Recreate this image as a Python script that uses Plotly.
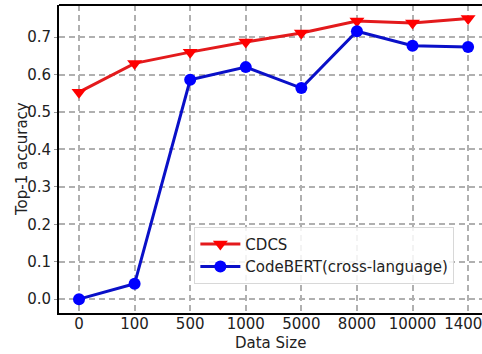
import plotly.graph_objects as go

# Training data sizes (categorical x positions) and top-1 accuracy per model
data_sizes = ["0", "100", "500", "1000", "5000", "8000", "10000", "14000"]
cdcs_acc = [0.553, 0.630, 0.660, 0.687, 0.711, 0.743, 0.738, 0.750]
codebert_acc = [0.000, 0.041, 0.586, 0.620, 0.564, 0.716, 0.677, 0.674]
y_ticks = [0.0, 0.1, 0.2, 0.3, 0.4, 0.5, 0.6, 0.7]

FONT = "DejaVu Sans"
GRID = "#b0b0b0"

fig = go.Figure()
fig.add_trace(go.Scatter(
    x=data_sizes, y=cdcs_acc, name="CDCS", mode="lines+markers",
    line=dict(color="#e31a1c", width=3),
    marker=dict(symbol="triangle-down", size=13, color="#ff0000"),
))
fig.add_trace(go.Scatter(
    x=data_sizes, y=codebert_acc, name="CodeBERT(cross-language)", mode="lines+markers",
    line=dict(color="#0a10c8", width=3),
    marker=dict(symbol="circle", size=12, color="#0000ff"),
))

fig.update_layout(
    width=482, height=354,
    margin=dict(l=59, r=0, t=5, b=41),
    paper_bgcolor="white", plot_bgcolor="white",
    font=dict(family=FONT, size=15, color="#222"),
    showlegend=True,
    legend=dict(
        x=0.32, y=0.28, xanchor="left", yanchor="top",
        bgcolor="rgba(255,255,255,0.85)", bordercolor="#d8d8d8", borderwidth=1,
        font=dict(family=FONT, size=15, color="#222"),
        itemwidth=40, tracegroupgap=0,
    ),
)
fig.update_xaxes(
    type="category", range=[-0.36, 7.25], automargin=False,
    showline=True, linecolor="black", linewidth=2,
    showgrid=True, gridcolor=GRID, gridwidth=1.5, griddash="6px,4px",
    ticks="", ticklabelstandoff=-4,
    tickfont=dict(family=FONT, size=15, color="#222"),
)
fig.update_yaxes(
    range=[-0.037, 0.786], tickvals=y_ticks, ticktext=[f"{v:.1f}" for v in y_ticks],
    automargin=False,
    showline=True, linecolor="black", linewidth=2,
    showgrid=True, gridcolor=GRID, gridwidth=1.5, griddash="6px,4px",
    zeroline=False,
    ticks="outside", ticklen=3, tickcolor="#999",
    tickfont=dict(family=FONT, size=15, color="#222"),
)
# Axis titles placed relative to the plot area edges
fig.add_annotation(text="Data Size", xref="paper", yref="paper", x=0.5, y=0,
                   xanchor="center", yanchor="middle", yshift=-30, showarrow=False,
                   font=dict(family=FONT, size=15, color="#222"))
fig.add_annotation(text="Top-1 accuracy", xref="paper", yref="paper", x=0, y=0.5,
                   xanchor="center", yanchor="middle", xshift=-37, textangle=-90,
                   showarrow=False, font=dict(family=FONT, size=15, color="#222"))
# Top border of the axes box
fig.add_shape(type="line", xref="paper", yref="paper", x0=0, x1=1, y0=1, y1=1,
              line=dict(color="black", width=2))

fig.write_html("out.html")
